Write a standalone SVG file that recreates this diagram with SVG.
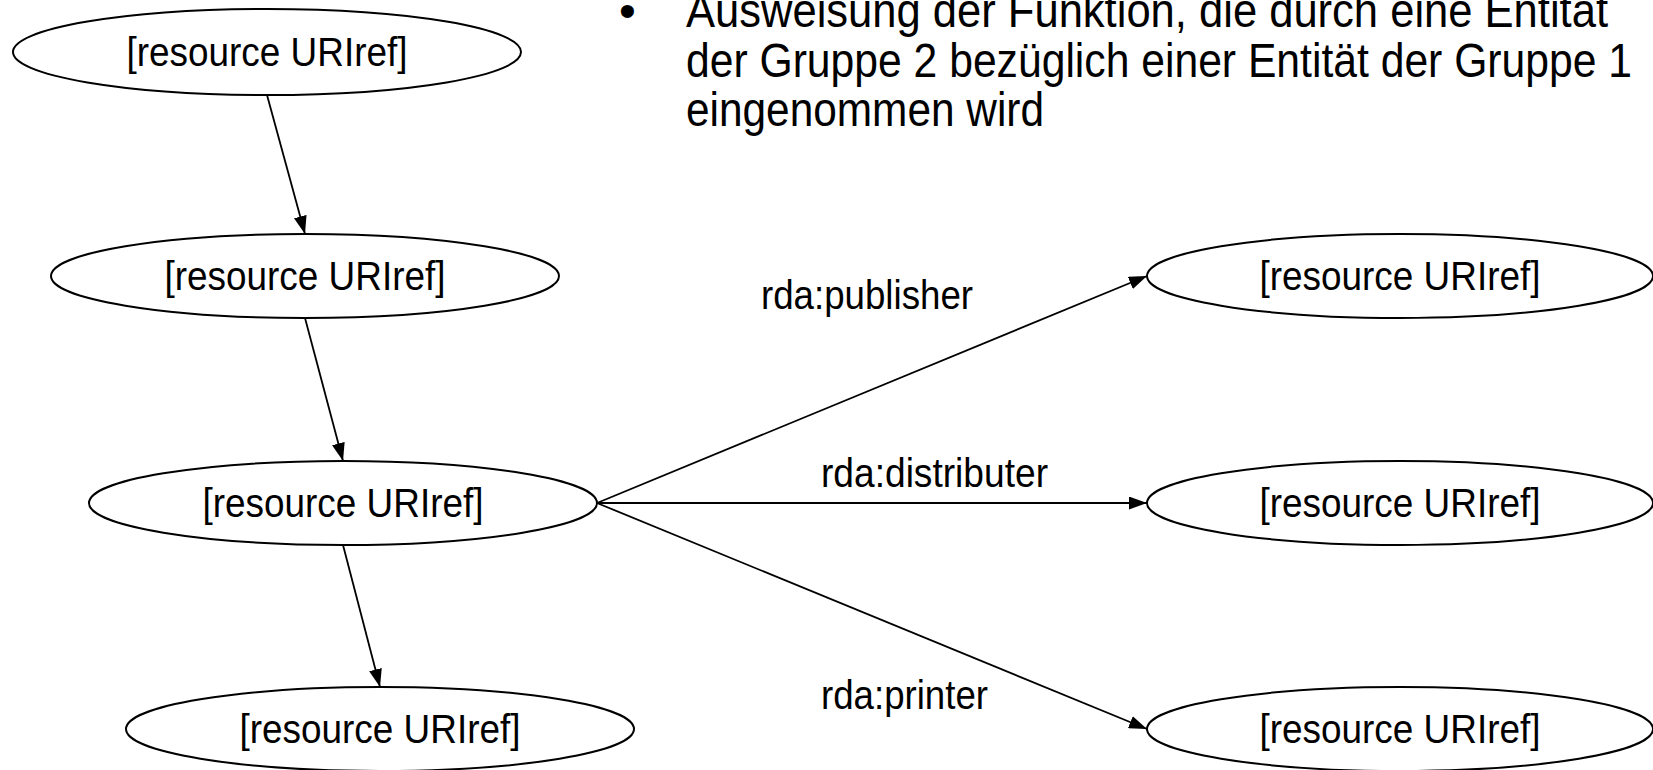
<svg xmlns="http://www.w3.org/2000/svg" width="1653" height="770" viewBox="0 0 1653 770">
<style>
.node ellipse{fill:#fff;stroke:#000;stroke-width:2}
.lbl{font-family:"Liberation Sans",Arial,sans-serif;font-size:41px;fill:#000;text-anchor:middle}
.elbl{font-family:"Liberation Sans",Arial,sans-serif;font-size:41px;fill:#000}
.body{font-family:"Liberation Sans",Arial,sans-serif;font-size:48px;fill:#000}
.edge{stroke:#000;stroke-width:1.8;fill:none;marker-end:url(#ah)}
</style>
<defs>
<marker id="ah" viewBox="0 0 18 13" refX="18" refY="6.5" markerWidth="18" markerHeight="13" markerUnits="userSpaceOnUse" orient="auto">
<path d="M0,0 L18,6.5 L0,13 z" fill="#000"/>
</marker>
</defs>
<rect width="1653" height="770" fill="#fff"/>
<g id="bullet-text">
<text class="body" x="619" y="27">•</text>
<text class="body" x="686" y="27" textLength="922" lengthAdjust="spacingAndGlyphs">Ausweisung der Funktion, die durch eine Entität</text>
<text class="body" x="686" y="77" textLength="946" lengthAdjust="spacingAndGlyphs">der Gruppe 2 bezüglich einer Entität der Gruppe 1</text>
<text class="body" x="686" y="126" textLength="358" lengthAdjust="spacingAndGlyphs">eingenommen wird</text>
</g>
<g id="connectors">
<line class="edge" x1="267" y1="95" x2="305" y2="234"/>
<line class="edge" x1="305" y1="318" x2="343" y2="461"/>
<line class="edge" x1="343" y1="545" x2="380" y2="687"/>
<line class="edge" x1="597" y1="503" x2="1147" y2="276"/>
<line class="edge" x1="597" y1="503" x2="1147" y2="503"/>
<line class="edge" x1="597" y1="503" x2="1147" y2="729"/>
<text class="elbl" x="761" y="309" textLength="212" lengthAdjust="spacingAndGlyphs">rda:publisher</text>
<text class="elbl" x="821" y="487" textLength="227" lengthAdjust="spacingAndGlyphs">rda:distributer</text>
<text class="elbl" x="821" y="709" textLength="167" lengthAdjust="spacingAndGlyphs">rda:printer</text>
</g>
<g id="n1" class="node"><ellipse cx="267" cy="52" rx="254" ry="43"/><text class="lbl" x="267" y="66" textLength="281" lengthAdjust="spacingAndGlyphs">[resource URIref]</text></g>
<g id="n2" class="node"><ellipse cx="305" cy="276" rx="254" ry="42"/><text class="lbl" x="305" y="290" textLength="281" lengthAdjust="spacingAndGlyphs">[resource URIref]</text></g>
<g id="n3" class="node"><ellipse cx="343" cy="503" rx="254" ry="42"/><text class="lbl" x="343" y="517" textLength="281" lengthAdjust="spacingAndGlyphs">[resource URIref]</text></g>
<g id="n4" class="node"><ellipse cx="380" cy="729" rx="254" ry="42"/><text class="lbl" x="380" y="743" textLength="281" lengthAdjust="spacingAndGlyphs">[resource URIref]</text></g>
<g id="n5" class="node"><ellipse cx="1400" cy="276" rx="253" ry="42"/><text class="lbl" x="1400" y="290" textLength="281" lengthAdjust="spacingAndGlyphs">[resource URIref]</text></g>
<g id="n6" class="node"><ellipse cx="1400" cy="503" rx="253" ry="42"/><text class="lbl" x="1400" y="517" textLength="281" lengthAdjust="spacingAndGlyphs">[resource URIref]</text></g>
<g id="n7" class="node"><ellipse cx="1400" cy="729" rx="253" ry="42"/><text class="lbl" x="1400" y="743" textLength="281" lengthAdjust="spacingAndGlyphs">[resource URIref]</text></g>
</svg>
